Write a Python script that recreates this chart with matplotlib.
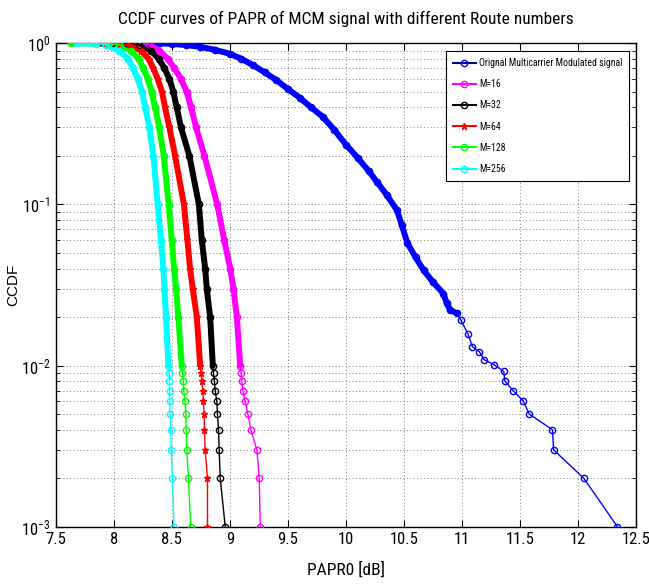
import numpy as np
import matplotlib
matplotlib.use("Agg")
import matplotlib.pyplot as plt
from matplotlib import font_manager
from matplotlib.ticker import FixedLocator, FormatStrFormatter, LogLocator, NullFormatter
from matplotlib.lines import Line2D

# ---------------- data ----------------
orig_x = [8.27, 8.40, 8.50, 8.62, 8.74, 8.87, 9.00, 9.10, 9.20, 9.30, 9.40, 9.50, 9.60, 9.70,
          9.80, 9.90, 10.00, 10.10, 10.20, 10.27, 10.35, 10.44, 10.48, 10.53, 10.60, 10.67,
          10.75, 10.84, 10.87, 10.90, 10.96, 10.99, 11.05, 11.09, 11.15, 11.19, 11.28, 11.36,
          11.37, 11.44, 11.53, 11.58, 11.78, 11.79, 12.05, 12.34]
orig_y = [1.0, 1.0, 0.99, 0.975, 0.95, 0.91, 0.86, 0.80, 0.73, 0.66, 0.59, 0.52, 0.46, 0.40,
          0.35, 0.29, 0.235, 0.195, 0.160, 0.137, 0.115, 0.092, 0.075, 0.0575, 0.047, 0.039,
          0.033, 0.028, 0.0243, 0.022, 0.0211, 0.0192, 0.0158, 0.0131, 0.0122, 0.0109, 0.0101,
          0.0092, 0.0080, 0.0070, 0.0060, 0.0050, 0.0040, 0.0030, 0.0020, 0.0010]

m16_x = [8.10, 8.22, 8.306, 8.392, 8.464, 8.522, 8.579, 8.628, 8.666, 8.709, 8.781, 8.891,
         8.951, 9.003, 9.031, 9.06, 9.089, 9.097, 9.103, 9.112, 9.132, 9.155, 9.181, 9.233,
         9.253, 9.262]
m32_x = [7.98, 8.12, 8.22, 8.32, 8.387, 8.436, 8.479, 8.513, 8.542, 8.579, 8.651, 8.733,
         8.758, 8.787, 8.801, 8.83, 8.853, 8.859, 8.867, 8.873, 8.888, 8.893, 8.902, 8.908,
         8.917, 8.960]
m64_x = [7.90, 8.05, 8.133, 8.234, 8.30, 8.34, 8.378, 8.415, 8.441, 8.479, 8.528, 8.604,
         8.634, 8.657, 8.68, 8.715, 8.744, 8.752, 8.758, 8.767, 8.772, 8.778, 8.781, 8.787,
         8.807, 8.807]
m128_x = [7.63, 7.95, 8.047, 8.148, 8.214, 8.254, 8.292, 8.326, 8.355, 8.392, 8.43, 8.473,
          8.499, 8.519, 8.536, 8.556, 8.585, 8.591, 8.600, 8.602, 8.614, 8.620, 8.623, 8.629,
          8.643, 8.663]
m256_x = [7.68, 7.85, 7.93, 8.047, 8.119, 8.168, 8.205, 8.243, 8.271, 8.306, 8.341, 8.378,
          8.406, 8.427, 8.436, 8.45, 8.47, 8.476, 8.479, 8.480, 8.481, 8.485, 8.491, 8.493,
          8.505, 8.519]
m_y = [1.0, 0.995, 0.98, 0.9, 0.8, 0.7, 0.6, 0.5, 0.4, 0.3, 0.2, 0.1, 0.06, 0.04, 0.03,
       0.02, 0.01, 0.009, 0.008, 0.007, 0.006, 0.005, 0.004, 0.003, 0.002, 0.001]

labels = ["Orignal Multicarrier Modulated signal", "M=16", "M=32", "M=64", "M=128", "M=256"]
title = "CCDF curves of PAPR of MCM signal with different Route numbers"
xticks = [7.5, 8, 8.5, 9, 9.5, 10, 10.5, 11, 11.5, 12, 12.5]

# ---------------- fonts ----------------
names = {f.name for f in font_manager.fontManager.ttflist}
narrow = [n for n in ["Liberation Sans Narrow", "DejaVu Sans Condensed", "Roboto Condensed",
                      "Liberation Sans"] if n in names]
narrow = narrow + ["DejaVu Sans"]
plt.rcParams["font.family"] = narrow
plt.rcParams["mathtext.fontset"] = "custom"
plt.rcParams["mathtext.rm"] = narrow[0]
plt.rcParams["mathtext.it"] = narrow[0]

fig = plt.figure(figsize=(6.49, 5.84), dpi=100)
ax = fig.add_axes([0.086, 0.098, 0.894, 0.828])

series = [
    (orig_x, orig_y, "#0000ff", "o", labels[0], 0.02),
    (m16_x, m_y, "#ff00ff", "o", labels[1], 0.01),
    (m32_x, m_y, "#000000", "o", labels[2], 0.01),
    (m64_x, m_y, "#ff0000", "*", labels[3], 0.01),
    (m128_x, m_y, "#00ff00", "o", labels[4], 0.01),
    (m256_x, m_y, "#00ffff", "o", labels[5], 0.01),
]

handles = []
for xs, ys, col, mk, lab, thr in series:
    xs = np.asarray(xs); ys = np.asarray(ys)
    dense = ys >= thr
    ax.plot(xs[dense], ys[dense], color=col, lw=4.3, solid_capstyle="round",
            solid_joinstyle="round", zorder=3)
    ax.plot(xs, ys, color=col, lw=1.0, marker=mk, ms=4.5 if mk == "o" else 5,
            mfc="none", mec=col, mew=1.0, zorder=4)
    hcol = "#00008b" if col == "#0000ff" else col
    handles.append(Line2D([], [], color=hcol, lw=1.5, marker=mk, ms=4.5, mfc="none",
                          mec=col, mew=1.0))

ax.set_yscale("log")
ax.set_xlim(7.5, 12.5)
ax.set_ylim(1e-3, 1)
ax.xaxis.set_major_locator(FixedLocator(xticks))
ax.xaxis.set_major_formatter(FormatStrFormatter("%g"))
ax.yaxis.set_major_locator(LogLocator(base=10, numticks=10))
ax.yaxis.set_minor_locator(LogLocator(base=10, subs=np.arange(2, 10), numticks=20))
ax.yaxis.set_minor_formatter(NullFormatter())

ax.grid(True, which="major", linestyle=(0, (1, 2.5)), color="#808080", lw=0.7)
ax.grid(True, which="minor", axis="y", linestyle=(0, (1, 2.5)), color="#808080", lw=0.7)
ax.tick_params(which="both", direction="in", top=True, right=True)
ax.tick_params(which="major", length=5, labelsize=12, pad=4)
ax.tick_params(which="minor", length=3)
for s in ax.spines.values():
    s.set_linewidth(1.0)
    s.set_color("black")

ax.set_title(title, fontsize=12.5, pad=14)
ax.set_xlabel("PAPR0 [dB]", fontsize=12.5, labelpad=10)
ax.set_ylabel("CCDF", fontsize=11, family=["Liberation Sans", "DejaVu Sans"])
ax.yaxis.set_label_coords(-0.062, 0.5)

leg = ax.legend(handles, labels, loc="upper right", bbox_to_anchor=(0.988, 0.9835),
                borderaxespad=0, fontsize=7, frameon=True, fancybox=False,
                edgecolor="black", framealpha=1, labelspacing=1.15, handlelength=2.4,
                handletextpad=0.3, borderpad=0.7)
leg.get_frame().set_linewidth(0.8)

fig.savefig("out.png", dpi=100)
